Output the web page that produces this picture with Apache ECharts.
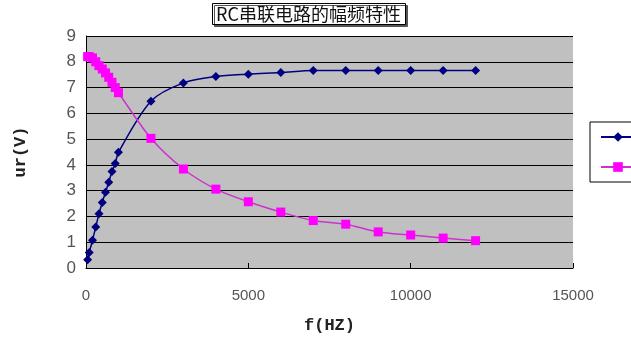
<!DOCTYPE html>
<html>
<head>
<meta charset="utf-8">
<script src="https://cdn.jsdelivr.net/npm/echarts@6/dist/echarts.min.js"></script>
<style>html,body{margin:0;padding:0;background:#fff;}#c{width:631px;height:343px;}</style>
</head>
<body>
<div id="c"></div>
<script>
var titleText = 'RC串联电路的幅频特性';
var xName = 'f(HZ)';
var yName = 'ur(V)';
var seriesNames = ['系列1', '系列2'];
var freqs = [50,100,200,300,400,500,600,700,800,900,1000,2000,3000,4000,5000,6000,7000,8000,9000,10000,11000,12000];
var ur = [0.32,0.60,1.08,1.59,2.10,2.54,2.94,3.33,3.74,4.05,4.49,6.47,7.18,7.43,7.52,7.58,7.66,7.66,7.66,7.66,7.66,7.66];
var uc = [8.2,8.2,8.15,8.0,7.85,7.72,7.57,7.4,7.2,7.0,6.8,5.03,3.84,3.06,2.57,2.17,1.84,1.70,1.40,1.28,1.16,1.06];

function pairs(xs, ys){ return xs.map(function(x,i){ return [x, ys[i]]; }); }

var chart = echarts.init(document.getElementById('c'));
chart.setOption({
  animation: false,
  backgroundColor: '#fff',
  title: {
    text: titleText,
    left: 212, top: 3,
    padding: [2, 5, 2, 4],
    borderColor: '#000', borderWidth: 1,
    backgroundColor: '#fff',
    shadowColor: '#555', shadowOffsetX: 2, shadowOffsetY: 2, shadowBlur: 0,
    textStyle: { fontFamily: '"Noto Sans CJK SC"', fontSize: 18, fontWeight: 'normal', color: '#111' }
  },
  legend: {
    left: 590, top: 122,
    orient: 'vertical',
    padding: [8, 8, 8, 10],
    itemGap: 16,
    itemWidth: 34, itemHeight: 12,
    borderColor: '#000', borderWidth: 1,
    textStyle: { fontSize: 14, color: '#000' },
    data: seriesNames
  },
  grid: {
    left: 86, right: 58, top: 36, bottom: 75,
    show: true, backgroundColor: '#C0C0C0', borderWidth: 0
  },
  xAxis: {
    type: 'value', min: 0, max: 15000, interval: 5000,
    name: xName, nameLocation: 'middle', nameGap: 49,
    nameTextStyle: { fontFamily: '"Liberation Mono"', fontSize: 17, fontWeight: 'bold', color: '#222' },
    axisLine: { show: true, lineStyle: { color: '#000', width: 1 } },
    axisTick: { show: true, inside: true, length: 5, lineStyle: { color: '#000' } },
    axisLabel: { fontFamily: '"Liberation Sans"', fontSize: 15, color: '#555', margin: 20,
      formatter: function(v){ return String(v); } },
    splitLine: { show: false }
  },
  yAxis: {
    type: 'value', min: 0, max: 9, interval: 1,
    name: yName, nameLocation: 'middle', nameGap: 57, nameRotate: 90,
    nameTextStyle: { fontFamily: '"Liberation Mono"', fontSize: 17, fontWeight: 'bold', color: '#222' },
    axisLine: { show: true, lineStyle: { color: '#000', width: 1 } },
    axisTick: { show: false },
    axisLabel: { fontFamily: '"Liberation Sans"', fontSize: 17, color: '#555', margin: 10 },
    splitLine: { show: true, lineStyle: { color: '#000', width: 1 } }
  },
  series: [
    {
      name: seriesNames[0], type: 'line', smooth: 0.3,
      data: pairs(freqs, ur),
      symbol: 'diamond', symbolSize: 9,
      itemStyle: { color: '#000080' },
      lineStyle: { color: '#000080', width: 1.5 }
    },
    {
      name: seriesNames[1], type: 'line', smooth: 0.3,
      data: pairs(freqs, uc),
      symbol: 'rect', symbolSize: 9,
      itemStyle: { color: '#FF00FF' },
      lineStyle: { color: '#CC33CC', width: 1.5 }
    }
  ]
});
</script>
</body>
</html>
